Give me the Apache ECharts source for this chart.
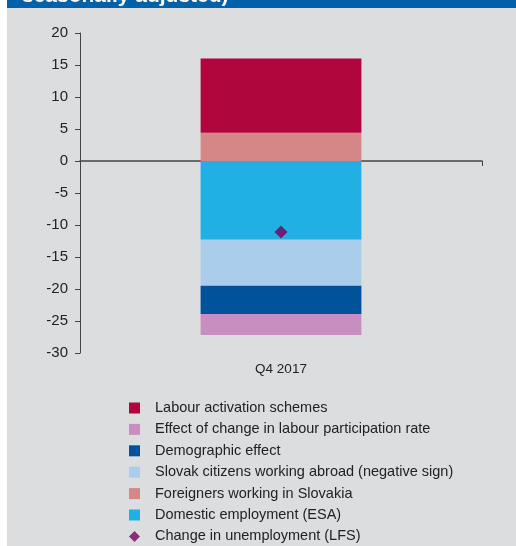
<!DOCTYPE html>
<html>
<head>
<meta charset="utf-8">
<script src="https://cdn.jsdelivr.net/npm/echarts@6/dist/echarts.min.js"></script>
<style>
  html, body { margin: 0; padding: 0; background: #ffffff; }
  #chart { width: 516px; height: 546px; }
</style>
</head>
<body>
<div id="chart"></div>
<script>
var categories = ['Q4 2017'];

var domestic = [-12.3];
var foreigners = [4.4];
var slovakAbroad = [-7.2];
var demographic = [-4.4];
var participation = [-3.3];
var activation = [11.6];
var unemployment = [-11.1];

var legendOrder = [
    'Labour activation schemes',
    'Effect of change in labour participation rate',
    'Demographic effect',
    'Slovak citizens working abroad (negative sign)',
    'Foreigners working in Slovakia',
    'Domestic employment (ESA)',
    'Change in unemployment (LFS)'
];

var myChart = echarts.init(document.getElementById('chart'));

function barSeries(name, values, color) {
    return {
        name: name,
        type: 'bar',
        stack: 'total',
        barWidth: '40%',
        itemStyle: { color: color },
        data: values
    };
}

var legendData = legendOrder.map(function (n) {
    return n === 'Change in unemployment (LFS)' ? { name: n, icon: 'diamond' } : { name: n, icon: 'rect' };
});

myChart.setOption({
    animation: false,
    backgroundColor: '#ffffff',
    textStyle: { fontFamily: 'Liberation Sans', color: '#222' },
    graphic: [
        { type: 'rect', z: -10, shape: { x: 7, y: 0, width: 509, height: 546 }, style: { fill: '#dcdddf' } },
        { type: 'rect', z: -5, shape: { x: 7, y: 0, width: 509, height: 8 }, style: { fill: '#0061ab' } },
        {
            type: 'text', z: -4, left: 22, top: -14,
            style: { text: 'seasonally adjusted)', fill: '#ffffff', font: 'bold 21px "Liberation Sans"' }
        }
    ],
    grid: { left: 80, right: 34, top: 33, bottom: 193 },
    legend: {
        orient: 'vertical',
        left: 129,
        top: 400,
        padding: 0,
        height: 150,
        itemWidth: 11,
        itemHeight: 11,
        itemGap: 5.4,
        data: legendData,
        textStyle: { fontSize: 14.5, lineHeight: 16, color: '#222', padding: [0, 0, 0, 10] }
    },
    xAxis: [
        {
            type: 'category',
            data: categories,
            axisLine: { onZero: true, lineStyle: { color: '#444', width: 1.5 } },
            axisTick: { show: true, length: 5, lineStyle: { color: '#444' } },
            axisLabel: { show: false }
        },
        {
            type: 'category',
            data: categories,
            position: 'bottom',
            axisLine: { show: false },
            axisTick: { show: false },
            axisLabel: { margin: 9, fontSize: 13.5, color: '#222' }
        }
    ],
    yAxis: {
        type: 'value',
        min: -30,
        max: 20,
        interval: 5,
        splitLine: { show: false },
        axisLine: { show: true, lineStyle: { color: '#444' } },
        axisTick: { show: true, length: 5, lineStyle: { color: '#444' } },
        axisLabel: { margin: 12, fontSize: 15, color: '#222' }
    },
    series: [
        barSeries('Domestic employment (ESA)', domestic, '#21b0e4'),
        barSeries('Foreigners working in Slovakia', foreigners, '#d58687'),
        barSeries('Slovak citizens working abroad (negative sign)', slovakAbroad, '#abcdec'),
        barSeries('Demographic effect', demographic, '#00529b'),
        barSeries('Effect of change in labour participation rate', participation, '#c78ec0'),
        barSeries('Labour activation schemes', activation, '#b0063e'),
        {
            name: 'Change in unemployment (LFS)',
            type: 'scatter',
            symbol: 'diamond',
            symbolSize: 13,
            z: 5,
            itemStyle: { color: '#7a005e' },
            data: unemployment
        }
    ]
});
</script>
</body>
</html>
